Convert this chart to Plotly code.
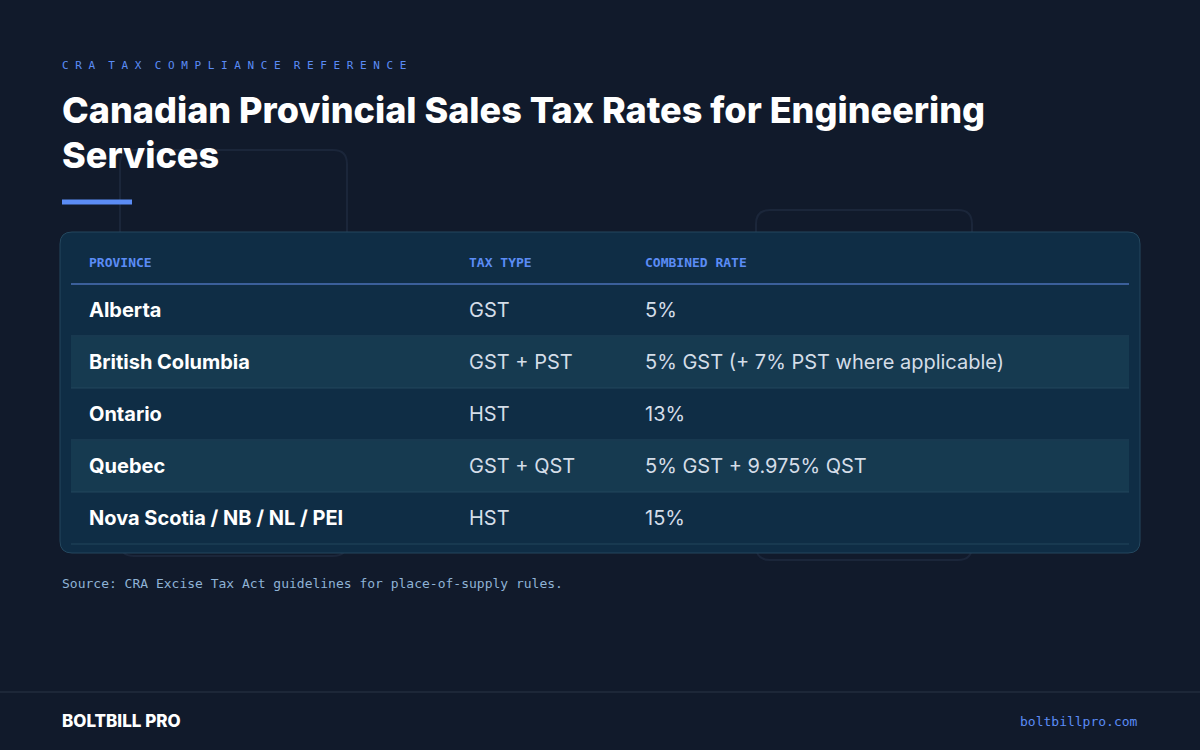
import plotly.graph_objects as go

# Table data
headers = ["PROVINCE", "TAX TYPE", "COMBINED RATE"]
provinces = ["Alberta", "British Columbia", "Ontario", "Quebec", "Nova Scotia / NB / NL / PEI"]
tax_types = ["GST", "GST + PST", "HST", "GST + QST", "HST"]
rates = ["5%", "5% GST (+ 7% PST where applicable)", "13%", "5% GST + 9.975% QST", "15%"]

BG = "#111a2b"
CARD = "#0f2d45"
ALT = "#163a50"
BLUE = "#5b8cf5"
MONO = "DejaVu Sans Mono"
SANS = "Inter"

col_x = [87, 467, 643]
row_top = 284
row_h = 52

fig = go.Figure()
shapes = []
ann = []

def rrect(x0, y0, x1, y1, r, line, fill="rgba(0,0,0,0)", width=1):
    p = (f"M{x0+r},{y0} L{x1-r},{y0} Q{x1},{y0} {x1},{y0+r} L{x1},{y1-r} Q{x1},{y1} {x1-r},{y1} "
         f"L{x0+r},{y1} Q{x0},{y1} {x0},{y1-r} L{x0},{y0+r} Q{x0},{y0} {x0+r},{y0} Z")
    return dict(type="path", path=p, line=dict(color=line, width=width), fillcolor=fill, layer="below")

# faint decorative frames
shapes.append(rrect(120, 150, 347, 556, 14, "#1b263a", width=2))
shapes.append(rrect(756, 210, 972, 560, 14, "#1b263a", width=2))
# card
shapes.append(rrect(60, 232, 1140, 553, 12, "#24475e", CARD))
# accent bar
shapes.append(dict(type="line", x0=62, x1=132, y0=202, y1=202, line=dict(color=BLUE, width=5)))
# header underline
shapes.append(dict(type="line", x0=71, x1=1129, y0=row_top, y1=row_top, line=dict(color="#3b5f9a", width=2)))

for i in range(len(provinces)):
    y0 = row_top + i * row_h
    if i % 2 == 1:
        shapes.append(dict(type="rect", x0=71, x1=1129, y0=y0 + 1, y1=y0 + row_h, fillcolor=ALT,
                           line=dict(width=0), layer="below"))
    shapes.append(dict(type="line", x0=71, x1=1129, y0=y0 + row_h, y1=y0 + row_h,
                       line=dict(color="#23465c", width=1)))
    yc = y0 + row_h / 2
    ann.append(dict(x=col_x[0], y=yc, text=provinces[i], font=dict(family=SANS, size=20, color="white", weight=700)))
    ann.append(dict(x=col_x[1], y=yc, text=tax_types[i], font=dict(family=SANS, size=20, color="#d4dde8")))
    ann.append(dict(x=col_x[2], y=yc, text=rates[i], font=dict(family=SANS, size=20, color="#d4dde8")))

for h, x in zip(headers, col_x):
    ann.append(dict(x=x, y=262, text=h, font=dict(family=MONO, size=13, color=BLUE, weight=700)))

ann += [
    dict(x=60, y=65, text="C R A  T A X  C O M P L I A N C E  R E F E R E N C E",
         font=dict(family=MONO, size=11, color=BLUE)),
    dict(x=60, y=110, text="Canadian Provincial Sales Tax Rates for Engineering",
         font=dict(family=SANS, size=36, color="white", weight=800)),
    dict(x=60, y=155, text="Services", font=dict(family=SANS, size=36, color="white", weight=800)),
    dict(x=60, y=583, text="Source: CRA Excise Tax Act guidelines for place-of-supply rules.",
         font=dict(family=MONO, size=13, color="#8fb3d6")),
    dict(x=60, y=721, text="BOLTBILL PRO", font=dict(family=SANS, size=17, color="white", weight=800)),
    dict(x=1140, y=721, text="boltbillpro.com", xanchor="right", font=dict(family=MONO, size=13, color=BLUE)),
]
shapes.append(dict(type="line", x0=0, x1=1200, y0=692, y1=692, line=dict(color="#2a3446", width=1)))

for a in ann:
    a.setdefault("xanchor", "left")
    a.update(xref="x", yref="y", showarrow=False, yanchor="middle")

fig.update_layout(
    width=1200, height=750, margin=dict(l=0, r=0, t=0, b=0),
    paper_bgcolor=BG, plot_bgcolor=BG, showlegend=False,
    xaxis=dict(range=[0, 1200], visible=False, fixedrange=True),
    yaxis=dict(range=[750, 0], visible=False, fixedrange=True),
    shapes=shapes, annotations=ann,
)
fig.write_html("out.html", config={"displayModeBar": False},
               post_script="document.body.style.margin='0';document.body.style.background='%s';" % BG)
